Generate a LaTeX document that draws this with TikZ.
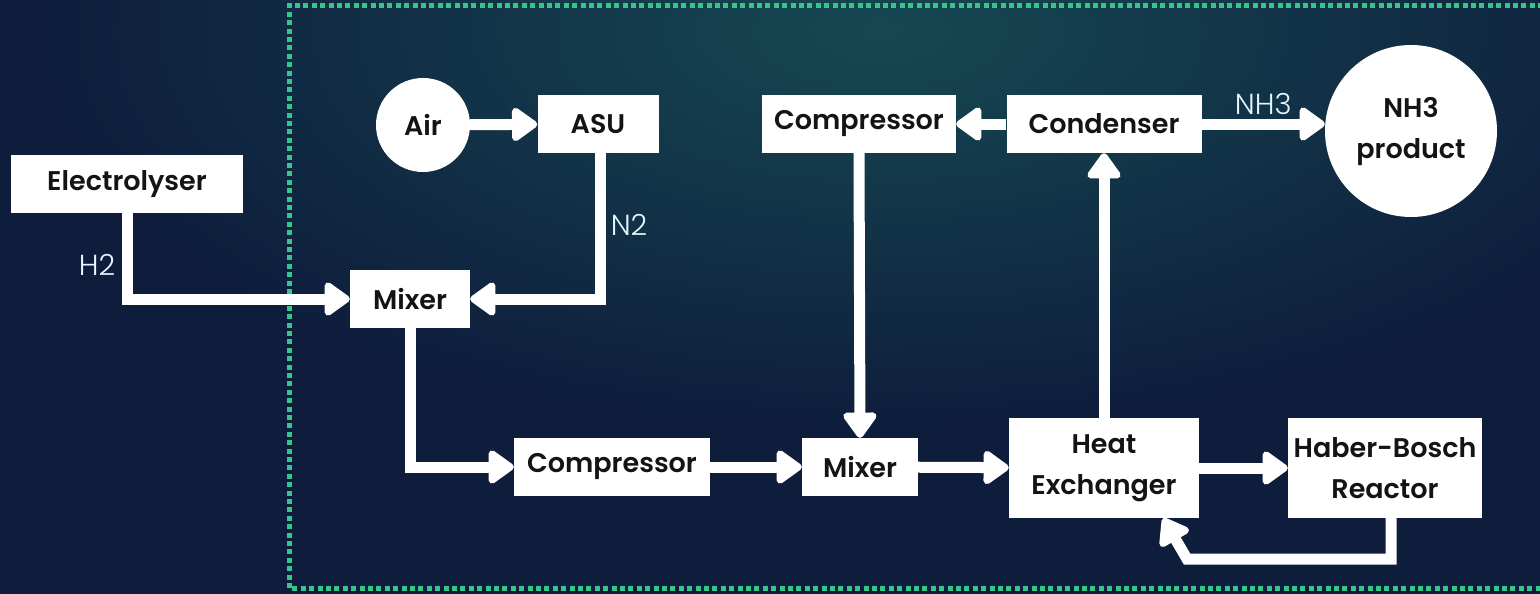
\documentclass[tikz,border=0pt]{standalone}
\usepackage{fontspec}
\setmainfont{Poppins}[BoldFont={Poppins SemiBold}]
\newfontfamily\streamfont{Poppins Light}
\usetikzlibrary{arrows.meta}
\definecolor{navybg}{RGB}{14,29,60}
\definecolor{tealglow}{RGB}{22,72,82}
\definecolor{dotgreen}{RGB}{52,198,138}

\begin{document}
\begin{tikzpicture}[x=1pt,y=-1pt,
        unit/.style={fill=white, rectangle, inner sep=0pt, minimum height=58pt, text=black!92,
          align=center, font=\fontsize{27}{41}\selectfont\bfseries},
        tank/.style={unit, circle},
        flow/.style={draw=white, line width=11pt,
          -{Triangle[length=28pt,width=38pt,round]}},
        stream/.style={text=white!90!cyan, font=\streamfont\fontsize{29}{30}\selectfont}]
      % fondo (1 unidad = 1 px de la figura original)
      \useasboundingbox (0,0) rectangle (1540,594);
      \fill[navybg] (0,0) rectangle (1540,594);
      \begin{scope}
        \clip (0,0) rectangle (1540,594);
        \shade[inner color=tealglow, outer color=navybg] (880,30) ellipse[x radius=850, y radius=400];
      \end{scope}
      % limite de la planta (punteado)
      \draw[dotgreen, line width=5pt, dash pattern=on 5pt off 3.4pt] (1560,6) -- (289,6) -- (289,588) -- (1560,588);
      % Equipos
      \node[unit, minimum width=232pt] (elec) at (127,184) {Electrolyser};
      \node[tank, minimum size=94pt] (air) at (423,125) {Air};
      \node[unit, minimum width=121pt] (asu) at (598,124) {ASU};
      \node[unit, minimum width=194pt] (compT) at (859,124) {Compressor};
      \node[unit, minimum width=195pt] (cond) at (1104,124) {Condenser};
      \node[tank, minimum size=172pt] (prod) at (1411,131) {NH3\\product};
      \node[unit, minimum width=120pt] (mix1) at (410,299) {Mixer};
      \node[unit, minimum width=196pt] (compB) at (612,467) {Compressor};
      \node[unit, minimum width=116pt] (mix2) at (860,467) {Mixer};
      \node[unit, minimum width=190pt, minimum height=100pt] (hx) at (1104,468) {Heat\\Exchanger};
      \node[unit, minimum width=194pt, minimum height=100pt] (reac) at (1385,468) {Haber-Bosch\\Reactor};
      % Corrientes
      \draw[flow] (elec.south) |- (mix1.west);
      \node[stream] (h2) at (97,265) {H2};
      \draw[flow] (air) -- (asu);
      \draw[flow] ([xshift=2pt]asu.south) |- (mix1.east);
      \node[stream] (n2) at (629,225) {N2};
      \draw[flow] (mix1.south) |- (compB.west);
      \draw[flow] (compB) -- (mix2);
      \draw[flow] (compT.south) -- (mix2.north);
      \draw[flow] (mix2) -- (hx);
      \draw[flow] (hx.north) -- (cond.south);
      \draw[flow] (cond) -- (compT);
      \draw[flow] (cond.east) -- (cond.east -| prod.west)
        node[stream, midway, above=1pt] (nh3) {NH3};
      \draw[flow] (hx) -- (reac);
      % Recirculacion del reactor
      \coordinate (ret) at (1187,559);
      \draw[flow] ([xshift=6pt]reac.south) |- (ret) -- ([xshift=-36pt]hx.south east);
    \end{tikzpicture}
\end{document}
